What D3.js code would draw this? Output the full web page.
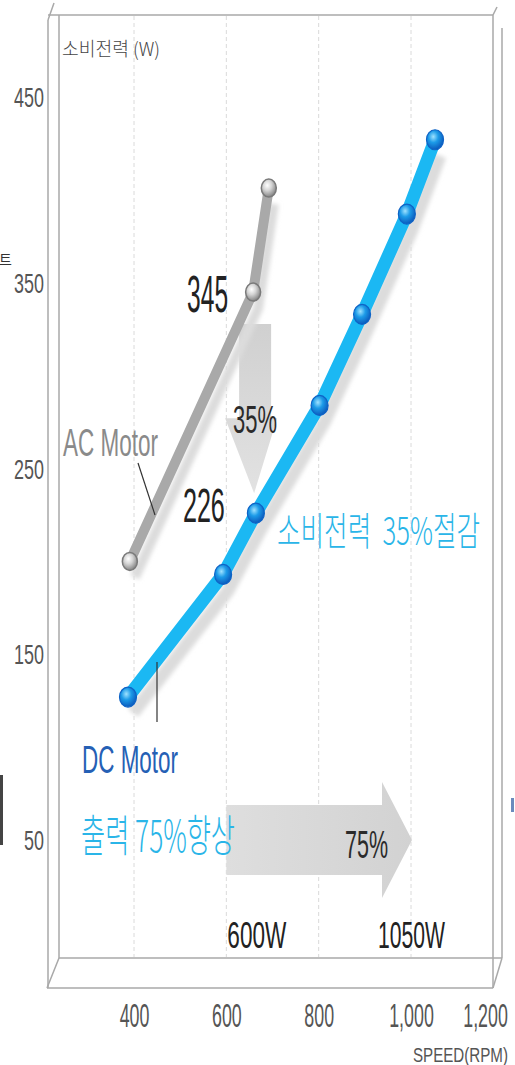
<!DOCTYPE html>
<html>
<head>
<meta charset="utf-8">
<script src="https://cdn.jsdelivr.net/npm/d3@7"></script>
<style>
  html, body { margin: 0; padding: 0; background: #fff; }
  svg { display: block; }
</style>
</head>
<body>
<svg id="chart" width="515" height="1065"></svg>
<script>
// ---- data ----
const speedTicks = [400, 600, 800, 1000, 1200];
const powerTicks = [50, 150, 250, 350, 450];
const gridSpeeds = [400, 600, 800, 1000];

const acSpeed = [391, 658, 692];
const acPower = [200, 345, 401];

const dcSpeed = [387, 593, 664, 802, 894, 991, 1052];
const dcPower = [127, 193, 226, 284, 333, 387, 427];

const outputLabels = ["600W", "1050W"];
const outputSpeeds = [600, 1000];
const savingText = "소비전력  35%절감";
const outputText = "출력 75%향상";

// ---- setup ----
const svg = d3.select("#chart");
const LATIN = "'Liberation Sans', Arial, sans-serif";
const KOREAN = "'Noto Sans CJK KR', 'Noto Sans', sans-serif";

const x = d3.scaleLinear().domain([400, 1000]).range([134, 411]);
const y = d3.scaleLinear().domain([0, 450]).range([933, 97]);

const defs = svg.append("defs");
const acGrad = defs.append("radialGradient").attr("id", "acDot").attr("cx", "40%").attr("cy", "35%").attr("r", "65%");
acGrad.append("stop").attr("offset", "0%").attr("stop-color", "#ffffff");
acGrad.append("stop").attr("offset", "45%").attr("stop-color", "#d4d4d4");
acGrad.append("stop").attr("offset", "100%").attr("stop-color", "#858585");
const dcGrad = defs.append("radialGradient").attr("id", "dcDot").attr("cx", "40%").attr("cy", "35%").attr("r", "65%");
dcGrad.append("stop").attr("offset", "0%").attr("stop-color", "#9fe2ff");
dcGrad.append("stop").attr("offset", "45%").attr("stop-color", "#1c9be8");
dcGrad.append("stop").attr("offset", "100%").attr("stop-color", "#0b5bbd");
const downGrad = defs.append("linearGradient").attr("id", "downArrow").attr("x1", 0).attr("y1", 0).attr("x2", 0).attr("y2", 1);
downGrad.append("stop").attr("offset", "0%").attr("stop-color", "#d0d0d0");
downGrad.append("stop").attr("offset", "100%").attr("stop-color", "#e2e2e2");
const rightGrad = defs.append("linearGradient").attr("id", "rightArrow").attr("x1", 0).attr("y1", 0).attr("x2", 1).attr("y2", 0);
rightGrad.append("stop").attr("offset", "0%").attr("stop-color", "#dedede");
rightGrad.append("stop").attr("offset", "100%").attr("stop-color", "#d2d2d2");
defs.append("filter").attr("id", "soft").attr("x", "-20%").attr("y", "-20%").attr("width", "140%").attr("height", "140%")
  .append("feGaussianBlur").attr("stdDeviation", 2);

// ---- 3D frame ----
const frame = svg.append("g").attr("stroke", "#a9a9a9").attr("stroke-width", 1.5).attr("fill", "none");
const frameLines = [
  [[59, 15], [59, 958]],
  [[48, 20], [48, 988]],
  [[48, 15], [493, 15]],
  [[48, 20], [54, 3]],
  [[493, 15], [497, 7]],
  [[493, 15], [493, 988]],
  [[502, 28], [502, 958]],
  [[59, 958], [502, 958]],
  [[47, 988], [493, 988]],
  [[59, 958], [47, 988]],
  [[502, 958], [493, 988]]
];
frame.selectAll("line").data(frameLines).join("line")
  .attr("x1", d => d[0][0]).attr("y1", d => d[0][1])
  .attr("x2", d => d[1][0]).attr("y2", d => d[1][1]);

// dashed vertical gridlines
svg.append("g").selectAll("line").data(gridSpeeds).join("line")
  .attr("x1", d => x(d)).attr("x2", d => x(d))
  .attr("y1", 16).attr("y2", 957)
  .attr("stroke", "#dadada").attr("stroke-width", 1).attr("stroke-dasharray", "4,3");

// ---- axes ----
function squeeze(sel, factor) {
  sel.each(function () {
    const len = this.getComputedTextLength();
    d3.select(this).attr("textLength", len * factor).attr("lengthAdjust", "spacingAndGlyphs");
  });
}

const yAxis = svg.append("g").attr("transform", "translate(44,0)")
  .call(d3.axisLeft(y).tickValues(powerTicks).tickSize(0).tickPadding(0));
yAxis.select(".domain").remove();
yAxis.selectAll("text").attr("font-family", LATIN).attr("font-size", 28).attr("fill", "#555").attr("dy", "0.34em");
squeeze(yAxis.selectAll("text"), 0.64);

const xAxis = svg.append("g").attr("transform", "translate(0,1004)")
  .call(d3.axisBottom(x).tickValues(speedTicks).tickFormat(d3.format(",")).tickSize(0).tickPadding(0));
xAxis.select(".domain").remove();
xAxis.selectAll("text").attr("font-family", LATIN).attr("font-size", 33).attr("fill", "#555");
squeeze(xAxis.selectAll("text"), 0.54);
xAxis.selectAll(".tick").filter(d => d === 1200).select("text").attr("text-anchor", "end").attr("dx", 4);

// ---- helper for labels ----
function label(str, px, py, o) {
  const t = svg.append("text").attr("x", px).attr("y", py).text(str)
    .attr("font-family", o.family || LATIN).attr("font-size", o.size)
    .attr("font-weight", o.weight || 400)
    .attr("fill", o.color).attr("text-anchor", o.anchor || "start")
    .style("white-space", "pre");
  if (o.width) t.attr("textLength", o.width).attr("lengthAdjust", "spacingAndGlyphs");
  return t;
}

// axis captions
label("소비전력 (W)", 62, 56, { family: KOREAN, size: 19, color: "#444", width: 98, weight: 300 });
label("SPEED(RPM)", 508, 1062, { size: 21, color: "#555", width: 95, anchor: "end" });

// ---- arrows ----
const cx = x(acSpeed[1]) + 2;
const aTop = y(acPower[1]) + 32;
const aTip = y(dcPower[2]) - 20;
const aNeck = aTip - 75;
svg.append("path")
  .attr("d", `M${cx - 16},${aTop} L${cx + 16},${aTop} L${cx + 16},${aNeck} L${cx + 22},${aNeck} L${cx - 1},${aTip} L${cx - 30},${aNeck} L${cx - 16},${aNeck} Z`)
  .attr("fill", "url(#downArrow)");

const rx0 = x(outputSpeeds[0]);
const rx1 = x(outputSpeeds[1]) + 1;
const ry = y(50);
svg.append("path")
  .attr("d", `M${rx0},${ry - 35} L${rx1 - 30},${ry - 35} L${rx1 - 30},${ry - 58} L${rx1},${ry} L${rx1 - 30},${ry + 58} L${rx1 - 30},${ry + 35} L${rx0},${ry + 35} Z`)
  .attr("fill", "url(#rightArrow)");

// ---- series ----
const line = d3.line().x(d => x(d[0])).y(d => y(d[1]));
const acPts = acSpeed.map((s, i) => [s, acPower[i]]);
const dcPts = dcSpeed.map((s, i) => [s, dcPower[i]]);

// soft drop shadows under both lines
[[acPts, 10], [dcPts, 13]].forEach(([pts, w]) => {
  svg.append("path").datum(pts).attr("d", line)
    .attr("transform", "translate(5,16)")
    .attr("fill", "none").attr("stroke", "#dcdcdc").attr("stroke-width", w)
    .attr("stroke-linejoin", "round").attr("filter", "url(#soft)");
});

svg.append("path").datum(acPts).attr("d", line)
  .attr("fill", "none").attr("stroke", "#a9a9a9").attr("stroke-width", 10)
  .attr("stroke-linejoin", "round");
svg.append("path").datum(dcPts).attr("d", line)
  .attr("fill", "none").attr("stroke", "#1bb8f3").attr("stroke-width", 13)
  .attr("stroke-linejoin", "round");

svg.append("g").selectAll("ellipse").data(acPts).join("ellipse")
  .attr("cx", d => x(d[0])).attr("cy", d => y(d[1])).attr("rx", 7.5).attr("ry", 9)
  .attr("fill", "url(#acDot)").attr("stroke", "#7a7a7a").attr("stroke-width", 1.5);
svg.append("g").selectAll("ellipse").data(dcPts).join("ellipse")
  .attr("cx", d => x(d[0])).attr("cy", d => y(d[1])).attr("rx", 8.5).attr("ry", 10)
  .attr("fill", "url(#dcDot)").attr("stroke", "#0e63c6").attr("stroke-width", 1.2);

// ---- annotations ----
label(String(acPower[1]), x(acSpeed[1]) - 66, y(acPower[1]) + 20, { size: 51, color: "#222", width: 41 });
label(String(dcPower[2]), x(dcSpeed[2]) - 73, y(dcPower[2]) + 9, { size: 49, color: "#222", width: 42 });
label("35%", 233, 433, { size: 39, color: "#2b2b2b", width: 44 });
label("75%", 345, 858, { size: 39, color: "#2b2b2b", width: 43 });
label(outputLabels[0], x(outputSpeeds[0]) + 1, 948, { size: 36, color: "#222", width: 59 });
label(outputLabels[1], x(outputSpeeds[1]) - 33, 948, { size: 36, color: "#222", width: 67 });

label("AC Motor", 63, 456, { size: 38, color: "#8a8a8a", width: 95 });
label("DC Motor", 82, 773, { size: 39, color: "#2560b5", width: 96 });
label(outputText, 81, 852, { family: KOREAN, size: 44, color: "#2ab5e8", width: 154, weight: 300 });
label(savingText, 277, 545, { family: KOREAN, size: 39, color: "#2ab5e8", width: 203, weight: 300 });

// leader lines to the series names
svg.append("line").attr("x1", 138).attr("y1", 463).attr("x2", 155).attr("y2", 515)
  .attr("stroke", "#333").attr("stroke-width", 1.2);
svg.append("line").attr("x1", 157).attr("y1", 662).attr("x2", 157).attr("y2", 722)
  .attr("stroke", "#333").attr("stroke-width", 1.2);

// cropped page edges
label("트", -1, 265, { family: KOREAN, size: 14, color: "#333" });
svg.append("rect").attr("x", 0).attr("y", 775).attr("width", 3).attr("height", 70).attr("fill", "#444");
svg.append("rect").attr("x", 511).attr("y", 798).attr("width", 3).attr("height", 14).attr("fill", "#6b8bbd");
</script>
</body>
</html>
